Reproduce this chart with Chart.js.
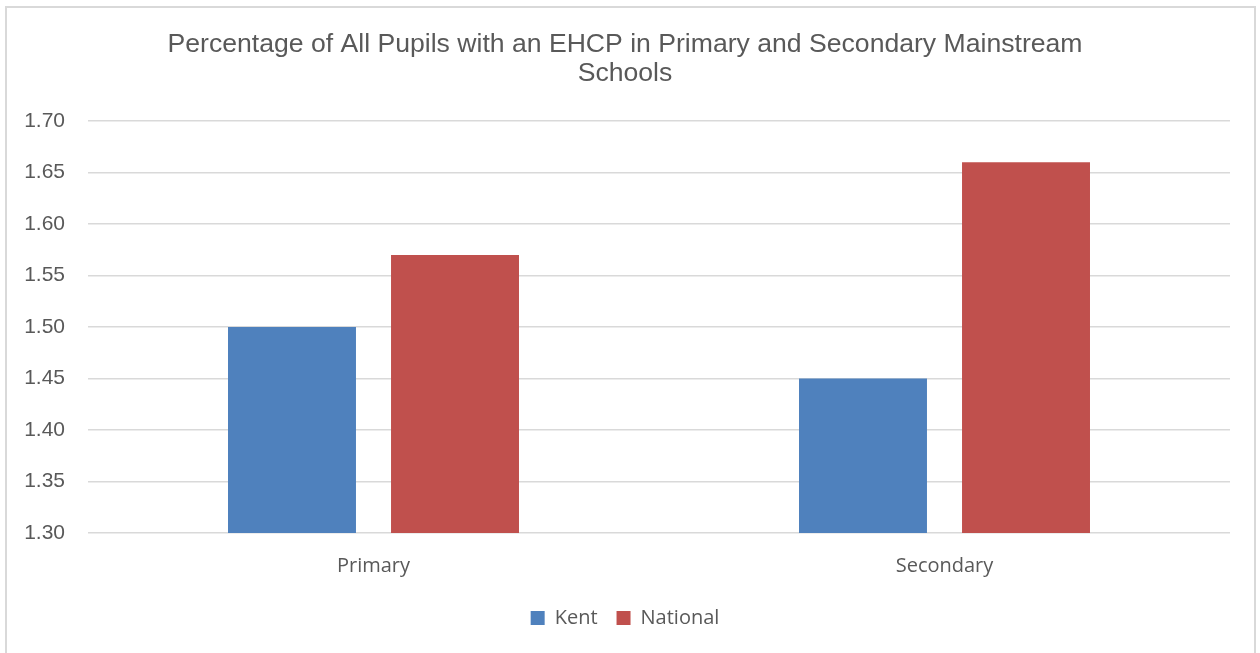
<!DOCTYPE html>
<html>
<head>
<meta charset="utf-8">
<script src="https://cdn.jsdelivr.net/npm/chart.js@4/dist/chart.umd.min.js"></script>
<style>
  html, body { margin: 0; padding: 0; background: #fff; overflow: hidden; }
  #frame { position: absolute; left: 5px; top: 6px; width: 1251px; height: 700px; border: 2px solid #d9d9d9; box-sizing: border-box; }
  #wrap { position: absolute; left: 0; top: 0; width: 1260px; height: 653px; }
</style>
</head>
<body>
<div id="frame"></div>
<div id="wrap"><canvas id="ehcp-chart"></canvas></div>
<script>
const categories = ['Primary', 'Secondary'];
const kentValues = [1.50, 1.45];
const nationalValues = [1.57, 1.66];
const tickLabels = ['1.30', '1.35', '1.40', '1.45', '1.50', '1.55', '1.60', '1.65', '1.70'];

const textColor = '#595959';

const chartData = {
  labels: categories,
  datasets: [
    {
      label: 'Kent',
      data: kentValues,
      backgroundColor: '#4F81BD',
      categoryPercentage: 0.571,
      barPercentage: 0.785,
    },
    {
      label: 'National',
      data: nationalValues,
      backgroundColor: '#C0504D',
      categoryPercentage: 0.571,
      barPercentage: 0.785,
    },
  ],
};

const chartOptions = {
  responsive: false,
  animation: false,
  // left padding kept small so the y tick labels are not clipped
  layout: { padding: { top: 20, left: 20, right: 30, bottom: 15 } },
  plugins: {
    title: {
      display: true,
      text: ['Percentage of All Pupils with an EHCP in Primary and Secondary Mainstream', 'Schools'],
      color: textColor,
      font: { family: '"Liberation Sans", Arial, sans-serif', size: 26.6, weight: 'normal', lineHeight: 1.09 },
      padding: { top: 10, bottom: 33 },
    },
    legend: {
      position: 'bottom',
      labels: {
        color: textColor,
        font: { family: '"Open Sans", sans-serif', size: 20 },
        boxWidth: 14,
        boxHeight: 14,
        padding: 19,
      },
    },
    tooltip: { enabled: false },
  },
  scales: {
    x: {
      grid: { display: false },
      border: { display: false },
      ticks: {
        color: textColor,
        font: { family: '"Open Sans", sans-serif', size: 20 },
        padding: 13,
      },
      afterFit: (scale) => { scale.height = 56; },
    },
    y: {
      min: 1.3,
      max: 1.7,
      grid: { color: '#d9d9d9', lineWidth: 1.5, drawTicks: false },
      border: { display: false },
      ticks: {
        stepSize: 0.05,
        color: textColor,
        font: { family: '"Liberation Sans", Arial, sans-serif', size: 21 },
        padding: 23,
        callback: function (value, index) {
          return tickLabels[index];
        },
      },
      afterFit: (scale) => { scale.width = 68; },
    },
  },
};

const ctx = document.getElementById('ehcp-chart');
ctx.width = 1260;
ctx.height = 653;
new Chart(ctx, {
  type: 'bar',
  data: chartData,
  options: chartOptions,
});
</script>
</body>
</html>
